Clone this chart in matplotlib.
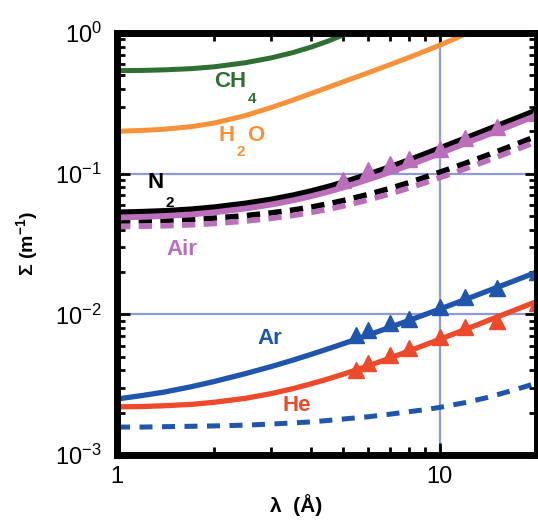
import matplotlib
matplotlib.use("Agg")
from matplotlib import pyplot as plt
from matplotlib.ticker import NullFormatter, LogLocator, FuncFormatter

plt.rcParams['font.family'] = ['Liberation Sans', 'DejaVu Sans']
plt.rcParams['mathtext.fontset'] = 'custom'
plt.rcParams['mathtext.rm'] = 'Liberation Sans'
plt.rcParams['mathtext.bf'] = 'Liberation Sans:bold'

# wavelength grid (Angstrom) used for the theory curves
lam = [1, 1.2, 1.4, 1.7, 2, 2.5, 3, 3.5, 4, 4.5, 5, 6, 7, 8, 9, 10, 12, 14, 17, 20]

ch4_lam = [1, 1.2, 1.4, 1.7, 2, 2.5, 3, 3.5, 4, 4.5, 5, 5.5]
ch4 = [0.54, 0.542, 0.547, 0.558, 0.575, 0.615, 0.665, 0.725, 0.795, 0.875, 0.965, 1.06]

h2o_lam = [1, 1.2, 1.4, 1.7, 2, 2.5, 3, 3.5, 4, 4.5, 5, 6, 7, 8, 9, 10, 11, 12, 13]
h2o = [0.200, 0.203, 0.207, 0.216, 0.229, 0.259, 0.295, 0.333, 0.372, 0.41, 0.448, 0.522,
       0.595, 0.668, 0.743, 0.82, 0.90, 0.985, 1.07]

n2_solid = [0.053, 0.0536, 0.0543, 0.0558, 0.0577, 0.0614, 0.0655, 0.0701, 0.0752, 0.0807,
            0.0865, 0.0988, 0.1114, 0.1246, 0.1381, 0.1516, 0.1786, 0.205, 0.244, 0.283]
n2_dash = [0.046, 0.0462, 0.0466, 0.0473, 0.0483, 0.0503, 0.0526, 0.0551, 0.0579, 0.061,
           0.0642, 0.0712, 0.0785, 0.0862, 0.0942, 0.1024, 0.1185, 0.135, 0.16, 0.185]
air_solid = [0.0488, 0.0493, 0.050, 0.0513, 0.0531, 0.0565, 0.0603, 0.0645, 0.0692, 0.0742,
             0.0796, 0.0909, 0.1025, 0.1146, 0.127, 0.1395, 0.1643, 0.1886, 0.2245, 0.260]
air_dash = [0.0421, 0.0423, 0.0426, 0.0433, 0.0442, 0.046, 0.0481, 0.0504, 0.053, 0.0558,
            0.0587, 0.0651, 0.0718, 0.0789, 0.0862, 0.0937, 0.1084, 0.1235, 0.1464, 0.1693]
ar_solid = [0.0025, 0.00265, 0.0028, 0.00306, 0.00333, 0.00379, 0.00425, 0.00472, 0.0052,
            0.00568, 0.00616, 0.00712, 0.00808, 0.00903, 0.00997, 0.0109, 0.01276, 0.01459,
            0.0173, 0.0200]
ar_dash = [0.00158, 0.00158, 0.00159, 0.0016, 0.00161, 0.00163, 0.00166, 0.00169, 0.00172,
           0.00176, 0.0018, 0.00187, 0.00195, 0.00203, 0.0021, 0.00218, 0.00236, 0.00256,
           0.0029, 0.00325]
he_solid = [0.0022, 0.00221, 0.00224, 0.00229, 0.00237, 0.00253, 0.00273, 0.00296, 0.00321,
            0.00347, 0.00374, 0.0043, 0.00488, 0.00547, 0.00606, 0.00665, 0.00781, 0.00897,
            0.01068, 0.01236]

# measured points
air_meas_lam = [5, 6, 7, 8, 10, 12, 15, 20]
air_meas = [0.090, 0.106, 0.117, 0.127, 0.150, 0.178, 0.215, 0.27]
gas_meas_lam = [5.5, 6, 7, 8, 10, 12, 15, 20]
ar_meas = [0.0071, 0.0077, 0.0087, 0.0093, 0.0113, 0.0133, 0.0155, 0.020]
he_meas = [0.0040, 0.0045, 0.0051, 0.0058, 0.0069, 0.0081, 0.0089, 0.012]

green = '#2f6f33'
orange = '#f7923a'
magenta = '#bb6fbb'
blue = '#1f55aa'
red = '#ec4a2b'

fig = plt.figure(figsize=(5.38, 5.21), dpi=100)
ax = fig.add_axes([117 / 538, 66 / 521, 420 / 538, 422 / 521])
ax.set_xscale('log')
ax.set_yscale('log')

ax.plot(ch4_lam, ch4, color=green, lw=3.6)
ax.plot(h2o_lam, h2o, color=orange, lw=3.6)

ax.plot(lam, n2_solid, color='black', lw=4.2)
ax.plot(lam, n2_dash, color='black', lw=4.0, dashes=(2.4, 1.5))
ax.plot(lam, air_solid, color=magenta, lw=4.2)
ax.plot(lam, air_dash, color=magenta, lw=4.0, dashes=(2.4, 1.5))
ax.plot(air_meas_lam, air_meas, '^', color=magenta, ms=11, clip_on=False)

ax.plot(lam, ar_solid, color=blue, lw=3.8)
ax.plot(lam, ar_dash, color=blue, lw=3.6, dashes=(2.6, 1.9))
ax.plot(gas_meas_lam, ar_meas, '^', color=blue, ms=11, clip_on=False)
ax.plot(lam, he_solid, color=red, lw=3.8)
ax.plot(gas_meas_lam, he_meas, '^', color=red, ms=11, clip_on=False)

ax.set_xlim(1, 20)
ax.set_ylim(1e-3, 1)

ax.yaxis.set_major_locator(LogLocator(base=10))
ax.yaxis.set_minor_locator(LogLocator(base=10, subs=range(2, 10)))
ax.xaxis.set_minor_locator(LogLocator(base=10, subs=range(2, 10)))
ax.xaxis.set_major_formatter(FuncFormatter(lambda v, pos: '%g' % v))
ax.xaxis.set_minor_formatter(NullFormatter())
ax.yaxis.set_minor_formatter(NullFormatter())

ax.grid(which='major', color='#8f9ad9', lw=1.6)
ax.set_axisbelow(True)

for sp in ax.spines.values():
    sp.set_linewidth(5)
ax.tick_params(which='both', direction='in', top=True, right=True, width=2)
ax.tick_params(which='major', length=9, labelsize=17)
ax.tick_params(which='minor', length=6)
ax.tick_params(axis='y', which='major', pad=11)
ax.tick_params(axis='x', which='major', pad=8)

ax.set_xlabel('λ  (Å)', fontsize=15, fontweight='bold', va='center')
ax.xaxis.set_label_coords(0.426, -0.118)
ax.set_ylabel('Σ (m$^{\\mathbf{-1}}$)', fontsize=14, fontweight='bold', va='center')
ax.yaxis.set_label_coords(-0.212, 0.5)

def label(x, y, s, c, size=16):
    ax.text(x, y, s, color=c, fontsize=size, fontweight='bold',
            ha='center', va='center', transform=ax.transAxes)

label(0.269, 0.884, 'CH', green)
label(0.321, 0.844, '4', green, 11)
label(0.262, 0.756, 'H', orange)
label(0.295, 0.718, '2', orange, 11)
label(0.331, 0.756, 'O', orange)
label(0.093, 0.645, 'N', 'black')
label(0.126, 0.597, '2', 'black', 11)
label(0.155, 0.486, 'Air', magenta)
label(0.364, 0.275, 'Ar', blue)
label(0.429, 0.118, 'He', red)

fig.savefig('out.png', dpi=100)
